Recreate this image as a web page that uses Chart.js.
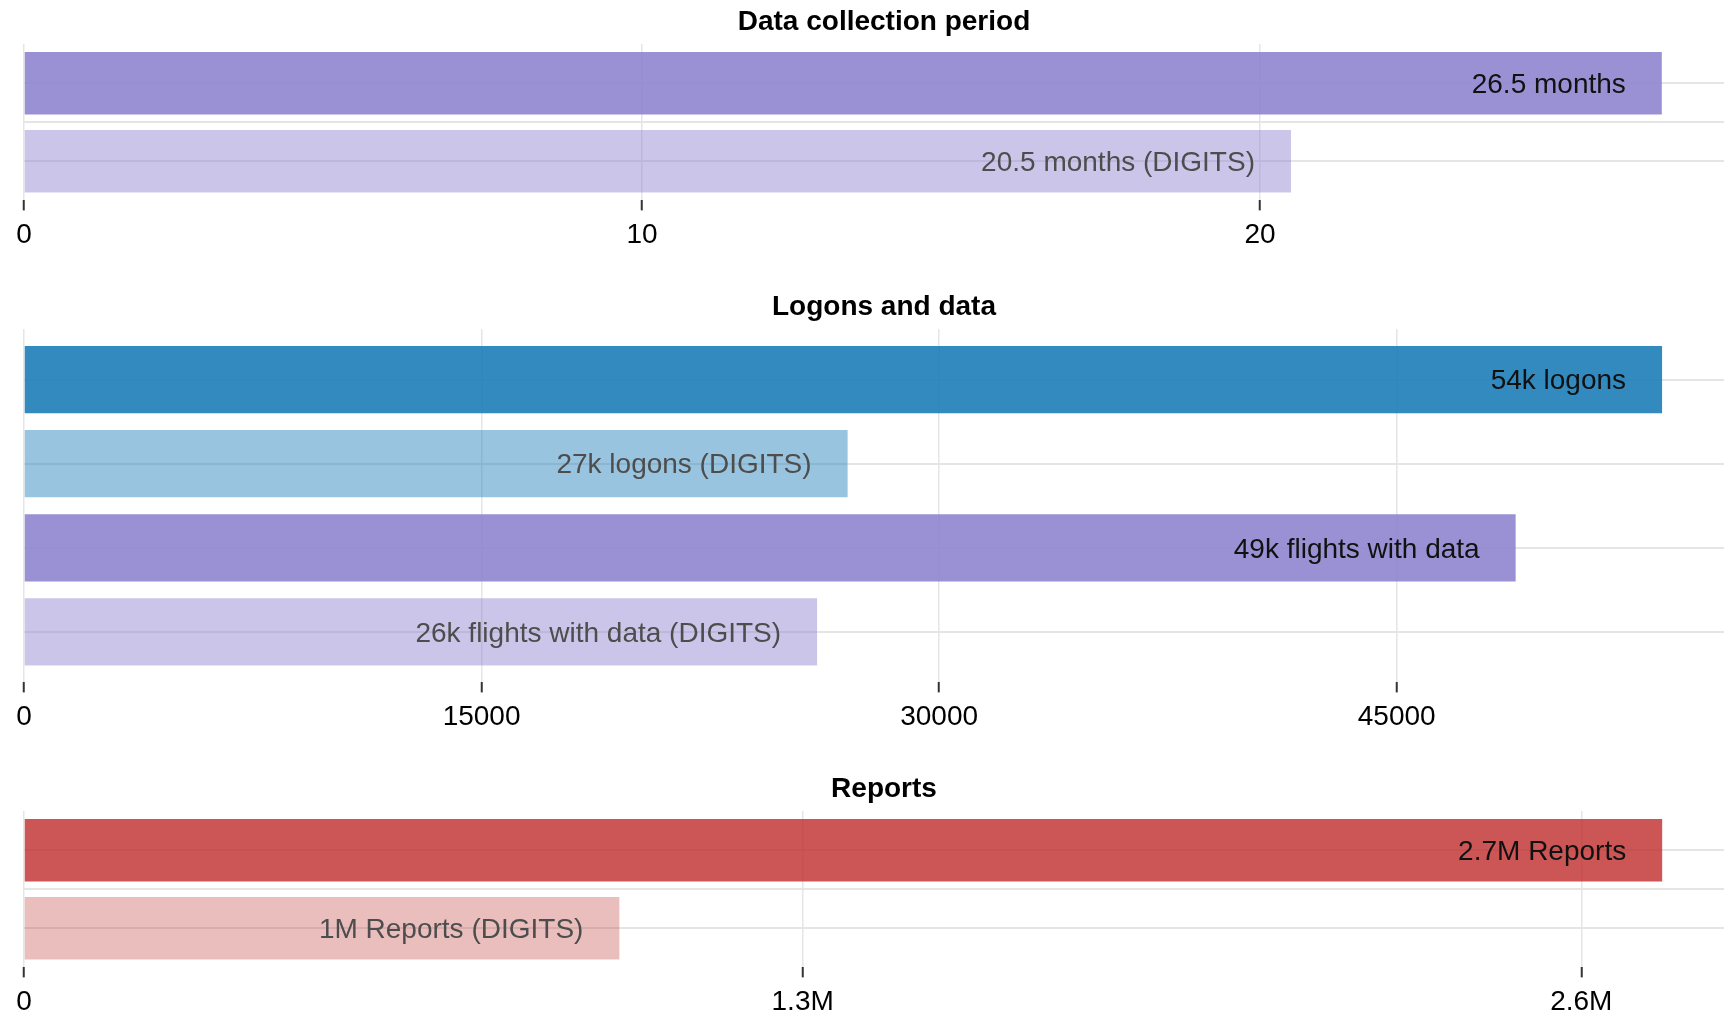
<!DOCTYPE html>
<html>
<head>
<meta charset="utf-8">
<script src="https://cdn.jsdelivr.net/npm/chart.js@4"></script>
<style>
  body{ margin:0; background:#fff; overflow:hidden; width:1724px; height:1012px; position:relative; }
  canvas{ position:absolute; left:0; }
</style>
</head>
<body>
<canvas id="periodChart" width="1744" height="260" style="top:0px"></canvas>
<canvas id="logonChart" width="1744" height="457" style="top:285px"></canvas>
<canvas id="reportChart" width="1744" height="260" style="top:767px"></canvas>
<script>
// Data collection period (months)
const periodLabels = ["26.5 months", "20.5 months (DIGITS)"];
const periodValues = [26.5, 20.5];
const periodTicks = [0, 10, 20];
const periodTickLabels = ["0", "10", "20"];

// Logons and data
const logonLabels = ["54k logons", "27k logons (DIGITS)", "49k flights with data", "26k flights with data (DIGITS)"];
const logonValues = [53700, 27000, 48900, 26000];
const logonTicks = [0, 15000, 30000, 45000];
const logonTickLabels = ["0", "15000", "30000", "45000"];

// Reports
const reportLabels = ["2.7M Reports", "1M Reports (DIGITS)"];
const reportValues = [2735000, 994000];
const reportTicks = [0, 1300000, 2600000];
const reportTickLabels = ["0", "1.3M", "2.6M"];

// Färger
const PURPLE = "rgba(143,132,207,0.9)", PURPLE_LIGHT = "rgba(143,132,207,0.465)";
const BLUE = "rgba(29,125,183,0.9)", BLUE_LIGHT = "rgba(29,125,183,0.45)";
const RED = "rgba(191,44,44,0.8)", RED_LIGHT = "rgba(191,44,44,0.31)";
const TEXT_DARK = "#111", TEXT_LIGHT = "#4d4d4d";
const GRID = "#e5e5e5";

Chart.defaults.font.family = "'Liberation Sans', Arial, sans-serif";
Chart.defaults.font.size = 28;
Chart.defaults.color = "#000";

// Text inne i staplarna, högerjusterad
const barText = {
  id: "barText",
  afterDatasetsDraw(chart, args, opts){
    const ctx = chart.ctx;
    const meta = chart.getDatasetMeta(0);
    ctx.save();
    ctx.font = "28px 'Liberation Sans', Arial, sans-serif";
    ctx.textAlign = "right";
    ctx.textBaseline = "middle";
    meta.data.forEach((bar, i) => {
      ctx.fillStyle = opts.colors[i];
      ctx.fillText(opts.labels[i], bar.x - 36, bar.y + 2);
    });
    ctx.restore();
  }
};

function makeChart(id, cfg){
  const rows = cfg.values.map((v, i) => i);
  const gridRows = rows.length === 2 ? [0, 0.5, 1] : rows;
  return new Chart(document.getElementById(id), {
    type: "bar",
    data: {
      datasets: [{
        data: cfg.values.map((v, i) => ({ x: v, y: i })),
        backgroundColor: cfg.colors,
        borderWidth: 0,
        categoryPercentage: 0.8,
        barPercentage: 1
      }]
    },
    plugins: [barText],
    options: {
      indexAxis: "y",
      responsive: false,
      animation: false,
      layout: { padding: { left: 24, right: 0, top: 0, bottom: 0 } },
      plugins: {
        legend: { display: false },
        tooltip: { enabled: false },
        title: {
          display: true, text: cfg.title, color: "#000",
          font: { size: 28, weight: "bold" },
          padding: { top: 5.5, bottom: 5 }
        },
        barText: { labels: cfg.labels, colors: cfg.textColors }
      },
      scales: {
        x: {
          type: "linear", min: 0, max: cfg.max,
          afterBuildTicks: s => { s.ticks = cfg.ticks.map(v => ({ value: v })); },
          ticks: { padding: 8, color: "#000", maxRotation: 0, autoSkip: false,
                   callback: (v, i) => cfg.tickLabels[i] },
          grid: { color: GRID, lineWidth: 1.5, tickColor: "#333", tickWidth: 2, tickLength: 10 },
          border: { display: false }
        },
        y: {
          type: "linear", display: false, reverse: true, offset: false,
          min: cfg.yMin, max: cfg.yMax,
          afterBuildTicks: s => { s.ticks = rows.map(v => ({ value: v })); },
          grid: { offset: false }
        },
        y2: {
          type: "linear", position: "left", reverse: true, offset: false,
          min: cfg.yMin, max: cfg.yMax,
          afterBuildTicks: s => { s.ticks = gridRows.map(v => ({ value: v })); },
          ticks: { display: false },
          grid: { color: GRID, lineWidth: 2, drawTicks: false, offset: false },
          border: { display: false }
        }
      }
    }
  });
}

makeChart("periodChart", {
  title: "Data collection period",
  values: periodValues, labels: periodLabels,
  colors: [PURPLE, PURPLE_LIGHT], textColors: [TEXT_DARK, TEXT_LIGHT],
  ticks: periodTicks, tickLabels: periodTickLabels,
  max: 27.83, yMin: -0.5, yMax: 1.5
});

makeChart("logonChart", {
  title: "Logons and data",
  values: logonValues, labels: logonLabels,
  colors: [BLUE, BLUE_LIGHT, PURPLE, PURPLE_LIGHT],
  textColors: [TEXT_DARK, TEXT_LIGHT, TEXT_DARK, TEXT_LIGHT],
  ticks: logonTicks, tickLabels: logonTickLabels,
  max: 56386, yMin: -0.6, yMax: 3.6
});

makeChart("reportChart", {
  title: "Reports",
  values: reportValues, labels: reportLabels,
  colors: [RED, RED_LIGHT], textColors: [TEXT_DARK, TEXT_LIGHT],
  ticks: reportTicks, tickLabels: reportTickLabels,
  max: 2871600, yMin: -0.5, yMax: 1.5
});
</script>
</body>
</html>
